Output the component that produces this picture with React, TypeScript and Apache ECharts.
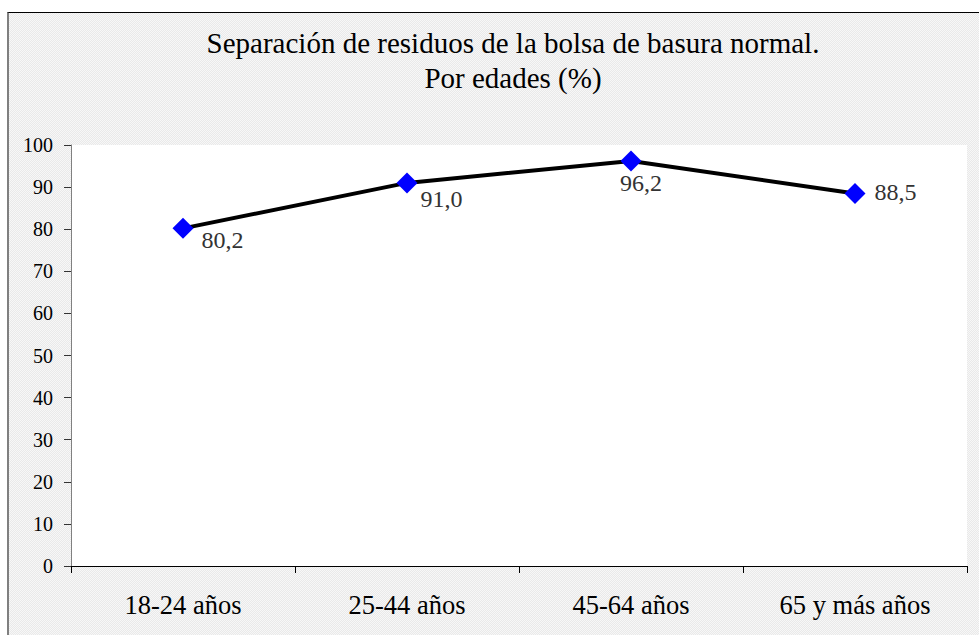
import React, { useEffect, useRef } from "react";
import * as echarts from "echarts";

const categories = ["18-24 años", "25-44 años", "45-64 años", "65 y más años"];
const values = [80.2, 91.0, 96.2, 88.5];
const valueLabels = ["80,2", "91,0", "96,2", "88,5"];
const titleLines = ["Separación de residuos de la bolsa de basura normal.", "Por edades (%)"];

const serif = "Liberation Serif";

export default function App() {
  const ref = useRef<HTMLDivElement>(null);
  useEffect(() => {
    if (!ref.current) return;
    const chart = echarts.init(ref.current, null, { renderer: "svg" });
    const labelCfg = [
      { position: "right", distance: 8, offset: [0, 12] },
      { position: "right", distance: 3, offset: [0, 16] },
      { position: "bottom", distance: 0, offset: [10, 0] },
      { position: "right", distance: 9, offset: [0, -1] },
    ];
    chart.setOption({
      animation: false,
      grid: {
        left: 71,
        right: 12,
        top: 145,
        bottom: 69,
        show: true,
        backgroundColor: "#ffffff",
        borderWidth: 0,
      },
      graphic: [
        {
          type: "text",
          x: 513,
          y: 43,
          style: {
            text: titleLines[0],
            fontFamily: serif,
            fontSize: 29,
            fill: "#000",
            align: "center",
            verticalAlign: "middle",
          },
        },
        {
          type: "text",
          x: 513,
          y: 78,
          style: {
            text: titleLines[1],
            fontFamily: serif,
            fontSize: 29,
            fill: "#000",
            align: "center",
            verticalAlign: "middle",
          },
        },
      ],
      xAxis: {
        type: "category",
        data: categories,
        boundaryGap: true,
        axisLine: { show: true, lineStyle: { color: "#000", width: 1 } },
        axisTick: { show: true, alignWithLabel: false, length: 7, lineStyle: { color: "#000" } },
        axisLabel: { color: "#000", fontSize: 26.5, fontFamily: serif, margin: 25 },
        splitLine: { show: false },
      },
      yAxis: {
        type: "value",
        min: 0,
        max: 100,
        interval: 10,
        axisLine: { show: true, lineStyle: { color: "#808080", width: 1 } },
        axisTick: { show: true, length: 7, lineStyle: { color: "#333" } },
        axisLabel: { color: "#000", fontSize: 20, fontFamily: serif, margin: 18 },
        splitLine: { show: false },
      },
      series: [
        {
          type: "line",
          data: values.map((v, i) => ({
            value: v,
            label: {
              show: true,
              formatter: valueLabels[i],
              color: "#333",
              fontSize: 24,
              fontFamily: serif,
              ...labelCfg[i],
            },
          })),
          symbol: "diamond",
          symbolSize: 21,
          itemStyle: { color: "#0000ff" },
          lineStyle: { color: "#000", width: 4 },
        },
      ],
    });
    return () => chart.dispose();
  }, []);

  return (
    <div style={{ position: "fixed", left: 0, top: 0, width: 979, height: 635, background: "#fff", overflow: "hidden" }}>
      <div
        style={{
          position: "absolute",
          left: 7,
          top: 12,
          width: 1000,
          height: 700,
          borderTop: "1px solid #000",
          borderLeft: "2px solid #808080",
          background: "repeating-conic-gradient(#e9e9e9 0 25%, #f7f7f7 0 50%) 0 0 / 2px 2px",
        }}
      />
      <div ref={ref} style={{ position: "absolute", left: 0, top: 0, width: 979, height: 635 }} />
    </div>
  );
}
